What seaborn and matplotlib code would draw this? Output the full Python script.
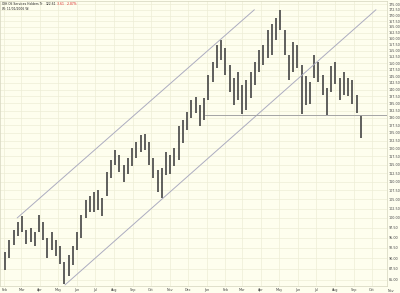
import numpy as np
import pandas as pd
import matplotlib
matplotlib.use("Agg")
import matplotlib.pyplot as plt
import seaborn as sns
from matplotlib.ticker import FixedLocator, NullLocator, FixedFormatter

# ---- data (weekly high / low) ----
first_week = "2005-02-02"
highs = [91.46, 94.40, 96.91, 98.95, 100.53, 96.91, 97.42, 96.38, 100.79, 98.95,
         94.90, 96.38, 94.40, 92.93, 89.09, 90.75, 92.93, 96.38, 100.79, 104.84,
         105.94, 107.04, 107.63, 105.39, 112.81, 116.44, 119.53, 117.97, 114.91, 117.05,
         120.16, 122.04, 124.32, 124.65, 122.04, 117.05, 113.42, 114.02, 118.89, 117.97,
         120.16, 127.29, 129.32, 132.04, 136.28, 137.35, 134.50, 136.99, 145.50, 150.54,
         157.42, 159.51, 156.20, 149.37, 144.37, 146.64, 141.73, 143.62, 146.64, 150.54,
         155.38, 157.42, 163.75, 166.33, 168.98, 172.57, 163.75, 153.34, 158.64, 157.42,
         149.37, 145.12, 142.84, 153.34, 150.54, 145.50, 140.63, 148.99, 150.54, 144.37,
         146.64, 144.37, 143.62, 138.07, 131.02]
lows = [87.26, 90.05, 93.17, 95.39, 96.38, 93.41, 93.89, 92.93, 96.38, 94.40,
        90.05, 91.96, 90.52, 88.64, 84.11, 85.89, 88.40, 91.96, 94.90, 100.01,
        101.58, 101.58, 102.13, 100.53, 105.94, 111.07, 114.91, 112.81, 109.89, 112.23,
        114.61, 117.05, 118.89, 119.53, 114.91, 111.07, 107.04, 105.39, 111.94, 112.23,
        114.61, 116.44, 121.73, 125.97, 130.00, 131.70, 127.29, 129.32, 136.28, 142.84,
        148.21, 151.36, 145.50, 139.14, 134.50, 136.28, 131.36, 132.76, 136.99, 141.73,
        146.64, 149.37, 152.15, 153.34, 159.51, 163.75, 153.34, 143.62, 146.64, 148.21,
        131.36, 134.50, 134.85, 144.37, 142.84, 138.07, 131.02, 139.14, 142.11, 136.28,
        138.07, 137.71, 134.85, 131.70, 123.35]

upper_dates = ["2005-02-22", "2006-03-21"]
upper_prices = [100.0, 172.6]
lower_dates = ["2005-05-12", "2006-10-08"]
lower_prices = [83.9, 172.6]
support_dates = ["2005-12-29", "2006-10-26"]
support_prices = [131.0, 131.0]

price_ticks = list(np.arange(85.0, 175.01, 2.5))
month_starts = pd.date_range("2005-02-01", "2006-10-01", freq="MS")

title_name = "OIH Oil Services Holders Tr"
last_price = "122.61"
change = "-3.61"
change_pct = "-2.87%"
sub_title = "W: 11/01/2006 W:"

dates = pd.date_range(first_week, periods=len(highs), freq="7D")
df = pd.DataFrame({"date": dates, "high": highs, "low": lows})

BG = "#FEFEEE"
GRID = "#EDEDD6"

sns.set_theme(style="white")
plt.rcParams["font.family"] = ["DejaVu Sans"]

fig = plt.figure(figsize=(4, 2.93), dpi=100, facecolor=BG)
ax = fig.add_axes([0.0, 7 / 293, 387 / 400, 285 / 293])
ax.set_facecolor(BG)

# price bars
ax.vlines(df["date"], df["low"], df["high"], color="#454545", lw=1.2)

# channel and support lines
for d, p, c in [(upper_dates, upper_prices, "#acacc0"),
                (lower_dates, lower_prices, "#acacc0"),
                (support_dates, support_prices, "#a4a4a4")]:
    sns.lineplot(x=pd.to_datetime(d), y=p, ax=ax, color=c, lw=0.7,
                 estimator=None, legend=False)

ax.set_yscale("log")
ax.set_ylim(83.66, 176.6)
ax.set_xlim(pd.Timestamp("2005-01-24 14:00"), pd.Timestamp("2006-10-26 06:00"))

ax.yaxis.set_major_locator(FixedLocator(price_ticks))
ax.yaxis.set_minor_locator(NullLocator())
ax.yaxis.set_major_formatter(FixedFormatter([f"{v:.2f}" for v in price_ticks]))
ax.yaxis.tick_right()

ax.set_xticks(month_starts)
ax.set_xticklabels([d.strftime("%b") for d in month_starts])
ax.tick_params(axis="both", length=0, labelsize=2.4, colors="#444444")
ax.tick_params(axis="y", pad=1.5)
ax.tick_params(axis="x", pad=1.2)
ax.text(pd.Timestamp("2006-11-01"), -0.012, "Nov", transform=ax.get_xaxis_transform(),
        ha="center", va="top", fontsize=2.4, color="#444444", clip_on=False)

ax.grid(True, color=GRID, lw=0.5)
ax.set_axisbelow(True)
for s in ax.spines.values():
    s.set_color("#d4d4bc")
    s.set_linewidth(0.5)
ax.set_xlabel("")
ax.set_ylabel("")

# header
fig.text(2 / 400, 1 - 4 / 293, title_name, fontsize=2.2, color="#222222", va="center")
fig.text(46 / 400, 1 - 4 / 293, last_price, fontsize=2.2, color="#222222", va="center")
fig.text(57 / 400, 1 - 4 / 293, change, fontsize=2.2, color="#dd2222", va="center")
fig.text(67 / 400, 1 - 4 / 293, change_pct, fontsize=2.2, color="#dd2222", va="center")
fig.text(2 / 400, 1 - 9 / 293, sub_title, fontsize=2.2, color="#222222", va="center")

fig.savefig("out.png", dpi=100, facecolor=BG)
